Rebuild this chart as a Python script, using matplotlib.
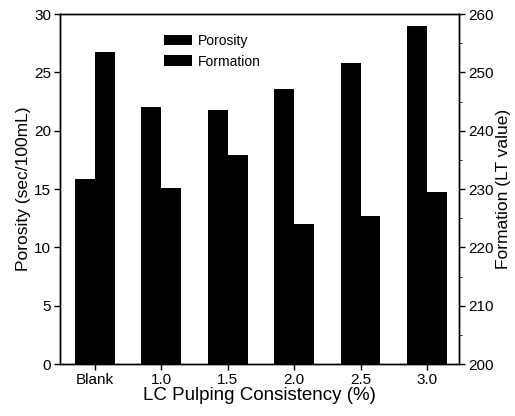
import numpy as np
import matplotlib
matplotlib.use("Agg")
import matplotlib.pyplot as plt
from matplotlib.patches import Patch
from matplotlib.ticker import MultipleLocator

plt.rcParams['font.family'] = ['Liberation Sans', 'DejaVu Sans']

categories = ['Blank', '1.0', '1.5', '2.0', '2.5', '3.0']
porosity = [15.9, 22.0, 21.8, 23.6, 25.8, 29.0]        # sec/100mL
formation = [253.5, 230.1, 235.9, 224.0, 225.3, 229.5]  # LT value

x = np.arange(len(categories))
w = 0.3

fig = plt.figure(figsize=(5.15, 4.16), dpi=100)
ax = fig.add_axes([0.117, 0.125, 0.774, 0.841])
ax2 = ax.twinx()

ax.bar(x - w / 2, porosity, width=w, color='black')
ax2.bar(x + w / 2, formation, width=w, color='black')

ax.set_xlim(-0.52, 5.48)
ax.set_ylim(0, 30)
ax2.set_ylim(200, 260)
ax.set_xticks(x)
ax.set_xticklabels(categories)
ax.yaxis.set_major_locator(MultipleLocator(5))
ax2.yaxis.set_major_locator(MultipleLocator(10))
ax2.yaxis.set_minor_locator(MultipleLocator(5))

for a in (ax, ax2):
    a.tick_params(direction='out', length=4, width=1, labelsize=11, pad=2.5)
    for s in a.spines.values():
        s.set_linewidth(1)
ax2.tick_params(which='minor', direction='out', length=2.5)

ax.set_ylabel('Porosity (sec/100mL)', fontsize=12.5, labelpad=2)
ax2.set_ylabel('Formation (LT value)', fontsize=12.5, labelpad=2)
ax.set_xlabel('LC Pulping Consistency (%)', fontsize=13.5, labelpad=0)

handles = [Patch(facecolor='black'), Patch(facecolor='black')]
ax.legend(handles, ['Porosity', 'Formation'], loc='upper left',
          bbox_to_anchor=(0.23, 0.98), frameon=False, fontsize=10,
          handlelength=2.0, handleheight=0.8, handletextpad=0.4,
          labelspacing=0.5)

fig.savefig('out.png', dpi=100)
